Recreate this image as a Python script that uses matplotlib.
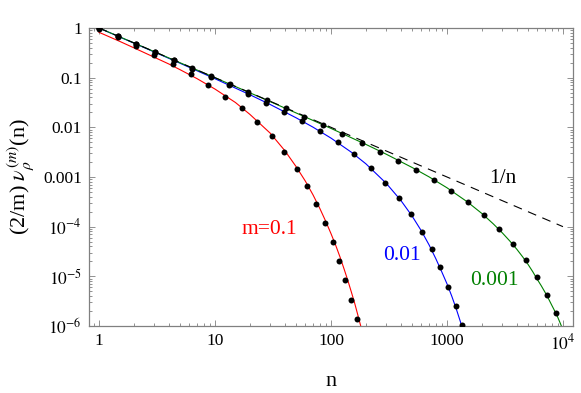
import numpy as np
import matplotlib
matplotlib.use('Agg')
import matplotlib.pyplot as plt
from matplotlib.ticker import FixedLocator, LogLocator, NullFormatter

plt.rcParams['font.family'] = ['Liberation Serif', 'DejaVu Serif']
plt.rcParams['mathtext.fontset'] = 'stix'

# theory curves
red_n = [1, 1.5, 2, 3, 4, 5, 7, 10, 15, 20, 30, 40, 50, 60, 70, 80, 90, 100,
         110, 120, 130, 140, 150, 160, 170, 180, 190]
red_logv = [-0.087, -0.267, -0.40, -0.59, -0.725, -0.84, -1.02, -1.23, -1.50,
            -1.74, -2.12, -2.47, -2.79, -3.08, -3.36, -3.63, -3.89, -4.14,
            -4.38, -4.62, -4.86, -5.09, -5.32, -5.54, -5.77, -5.99, -6.21]

blue_n = [1, 2, 3, 5, 10, 20, 30, 50, 70, 100, 150, 200, 300, 400, 500, 600,
          700, 800, 900, 1000, 1100, 1200, 1300, 1400]
blue_logv = [-0.002, -0.305, -0.484, -0.710, -1.022, -1.344, -1.542, -1.808,
             -1.997, -2.217, -2.502, -2.735, -3.129, -3.471, -3.785, -4.081,
             -4.365, -4.641, -4.905, -5.15, -5.40, -5.65, -5.90, -6.15]

green_n = [1, 2, 5, 10, 20, 50, 100, 200, 300, 500, 700, 1000, 1500, 2000,
           2500, 3000, 3500, 4000, 4500, 5000, 5500, 6000, 6500, 7000, 7500,
           8000, 8500, 9000, 9500, 10000]
green_logv = [0.0, -0.301, -0.700, -1.002, -1.305, -1.710, -2.022, -2.344,
              -2.542, -2.808, -2.997, -3.217, -3.502, -3.735, -3.941, -4.125,
              -4.295, -4.455, -4.61, -4.76, -4.91, -5.06, -5.19, -5.32, -5.45,
              -5.58, -5.70, -5.82, -5.95, -6.08]

# simulation points
red_dot_n = [1, 1.444, 2.083, 2.998, 4.302, 6.21, 8.75, 12.19, 16.98, 22.86,
             30.83, 39.36, 50.58, 62.52, 74.3, 89.1, 103.5, 118.0, 132.7,
             148.6, 166.7]
red_dot_v = [0.951, 0.644, 0.433, 0.287, 0.1875, 0.118, 0.072, 0.0414, 0.02415,
             0.0130, 0.0067, 0.00324, 0.00145, 0.000659, 0.000288, 0.000120,
             5.0e-5, 2.04e-5, 8.5e-6, 3.3e-6, 1.38e-6]

blue_dot_n = [1, 1.449, 2.099, 3.041, 4.406, 6.368, 9.204, 13.30, 19.19, 27.61,
              39.63, 56.75, 80.72, 114.0, 159.2, 221.3, 292.4, 385.5, 489.8,
              612.4, 737.9, 871.0, 1025.6, 1188.5, 1339.8]
blue_dot_v = [0.995, 0.685, 0.4715, 0.324, 0.222, 0.152, 0.1038, 0.0704,
              0.0474, 0.0316, 0.0207, 0.01327, 0.00828, 0.00496, 0.00284,
              0.001496, 0.000767, 0.000383, 0.0001774, 7.93e-5, 3.56e-5,
              1.52e-5, 6.19e-6, 2.56e-6, 1.05e-6]

green_dot_n = [1, 1.449, 2.099, 3.041, 4.406, 6.383, 9.247, 13.40, 19.41,
               28.12, 40.74, 59.02, 85.9, 125.3, 184.1, 264.2, 375.8, 540.8,
               772.7, 1076, 1507, 2084, 2805, 3681, 4764, 5929, 7228, 8710]
green_dot_v = [1.0, 0.689, 0.476, 0.328, 0.226, 0.156, 0.1076, 0.0741, 0.0510,
               0.0351, 0.0240, 0.01646, 0.01115, 0.0075, 0.00476, 0.00324,
               0.00213, 0.001384, 0.000859, 0.000522, 0.000309, 0.0001694,
               8.97e-5, 4.42e-5, 2.13e-5, 9.55e-6, 4.21e-6, 1.80e-6]

ref_n = [1, 10000]
ref_v = [1, 1e-4]

xticks = [1, 10, 100, 1000, 10000]
xticklabels = ['1', '10', '100', '1000', r'$10^4$']
yticks = [1, 0.1, 0.01, 0.001, 1e-4, 1e-5, 1e-6]
yticklabels = ['1', '0.1', '0.01', '0.001', r'$10^{-4}$', r'$10^{-5}$', r'$10^{-6}$']

red = '#ff0000'
blue = '#0000ff'
green = '#008000'

fig = plt.figure(figsize=(5.81, 3.93), dpi=100)
ax = fig.add_axes([0.1532, 0.1705, 0.8330, 0.7583])

ax.plot(red_n, 10 ** np.array(red_logv), color=red, lw=0.8, zorder=2)
ax.plot(blue_n, 10 ** np.array(blue_logv), color=blue, lw=0.8, zorder=2)
ax.plot(green_n, 10 ** np.array(green_logv), color=green, lw=0.8, zorder=2)
ax.plot(ref_n, ref_v, color='black', lw=0.8, ls=(0, (8, 6)), zorder=3)

for xs, ys in [(red_dot_n, red_dot_v), (blue_dot_n, blue_dot_v), (green_dot_n, green_dot_v)]:
    ax.plot(xs, ys, 'o', color='black', ms=4.3, mew=0, zorder=4)

ax.set_xscale('log')
ax.set_yscale('log')
ax.set_xlim(0.82, 12200)
ax.set_ylim(1e-6, 1)

ax.xaxis.set_major_locator(FixedLocator(xticks))
ax.set_xticklabels(xticklabels)
ax.yaxis.set_major_locator(FixedLocator(yticks))
ax.set_yticklabels(yticklabels)
ax.xaxis.set_minor_locator(LogLocator(base=10, subs=np.arange(2, 10), numticks=20))
ax.yaxis.set_minor_locator(LogLocator(base=10, subs=np.arange(2, 10), numticks=20))
ax.xaxis.set_minor_formatter(NullFormatter())
ax.yaxis.set_minor_formatter(NullFormatter())

ax.tick_params(which='both', direction='in', top=True, right=True, color='#808080',
               width=0.6, labelsize=12.5, pad=5)
ax.tick_params(which='major', length=4)
ax.tick_params(which='minor', length=2)
for sp in ax.spines.values():
    sp.set_color('#808080')
    sp.set_linewidth(0.9)

ax.text(29.5, 8.6e-5, 'm=0.1', color=red, fontsize=15.5, ha='center', va='center')
ax.text(407, 2.6e-5, '0.01', color=blue, fontsize=15.5, ha='center', va='center')
ax.text(2557, 8.4e-6, '0.001', color=green, fontsize=15.5, ha='center', va='center')
ax.text(3057, 9.4e-4, '1/n', color='black', fontsize=15.5, ha='center', va='center')

ax.set_xlabel('n', fontsize=16, labelpad=14)
ax.set_ylabel(r'(2/m) $\nu_\rho^{(m)}$(n)', fontsize=16, labelpad=5)

fig.savefig('out.png', dpi=100)
